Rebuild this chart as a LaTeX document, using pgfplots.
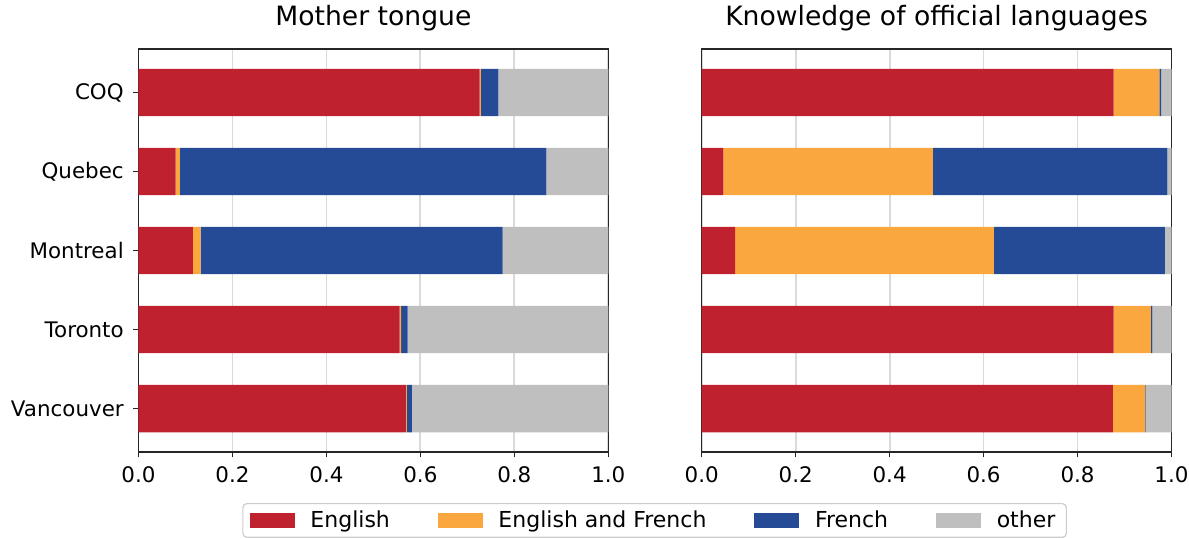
\documentclass[border=0pt]{standalone}
\usepackage{fontspec}
\setmainfont{DejaVu Sans}
\usepackage{pgfplots}
\pgfplotsset{compat=1.18}
\usepackage{pgfplotstable}

\definecolor{cEn}{HTML}{BF212F}
\definecolor{cEF}{HTML}{F9A73E}
\definecolor{cFr}{HTML}{264B96}
\definecolor{cOt}{HTML}{BFBFBF}
\definecolor{gridc}{HTML}{DADADA}

\pgfplotstableread{
y E EF F O
0 0.726 0.003 0.037 0.234
1 0.079 0.009 0.780 0.132
2 0.116 0.016 0.643 0.225
3 0.556 0.003 0.014 0.427
4 0.569 0.002 0.011 0.418
}\mother

\pgfplotstableread{
y E EF F O
0 0.877 0.097 0.004 0.022
1 0.046 0.446 0.499 0.009
2 0.071 0.551 0.364 0.014
3 0.877 0.079 0.003 0.041
4 0.875 0.069 0.001 0.055
}\knowledge

\pgfplotsset{
  mystyle/.style={
    xbar stacked, bar width=0.6,
    scale only axis, width=234.9pt, height=201.5pt,
    xmin=0, xmax=1, ymin=-0.55, ymax=4.55, y dir=reverse,
    xtick={0,0.2,0.4,0.6,0.8,1},
    xticklabels={0.0,0.2,0.4,0.6,0.8,1.0},
    /pgf/number format/assume math mode=true,
    xmajorgrids, grid style={gridc, line width=0.9pt},
    axis line style={black!85, line width=0.6pt},
    tick style={black!85, line width=0.6pt},
    tick align=outside, major tick length=2.67pt,
    xtick pos=left, ytick pos=left,
    ticklabel style={font=\fontsize{10.7}{12}\selectfont},
    xticklabel style={yshift=-1.2pt},
    yticklabel style={xshift=-1.2pt},
    title style={font=\fontsize{13.3}{15}\selectfont, at={(0.5,1)}, anchor=base, yshift=5.85pt},
    legend image code/.code={\fill[##1, sharp corners] (0pt,-3.75pt) rectangle (22.5pt,3.75pt);},
  }
}

\begin{document}
\begin{tikzpicture}
\begin{axis}[mystyle, at={(69.25pt,42.5pt)}, anchor=south west,
  title={Mother tongue},
  ytick={0,1,2,3,4},
  yticklabels={COQ,Quebec,Montreal,Toronto,Vancouver},
  legend columns=4,
  legend style={at={(1.0986,-0.1266)}, anchor=north, draw=black!20, line width=0.6pt,
    rounded corners=2pt, font=\fontsize{11}{12}\selectfont,
    inner xsep=3.5pt, inner ysep=1.5pt,
    /tikz/every even column/.append style={column sep=22pt},
    /tikz/every odd column/.append style={column sep=5.8pt}},
]
\addplot[fill=cEn, draw=none] table[x=E, y=y]{\mother};
\addplot[fill=cEF, draw=none] table[x=EF, y=y]{\mother};
\addplot[fill=cFr, draw=none] table[x=F, y=y]{\mother};
\addplot[fill=cOt, draw=none] table[x=O, y=y]{\mother};
\legend{English, English and French, French, other}
\end{axis}
\begin{axis}[mystyle, at={(350.85pt,42.5pt)}, anchor=south west,
  title={Knowledge of official languages},
  ytick=\empty,
]
\addplot[fill=cEn, draw=none] table[x=E, y=y]{\knowledge};
\addplot[fill=cEF, draw=none] table[x=EF, y=y]{\knowledge};
\addplot[fill=cFr, draw=none] table[x=F, y=y]{\knowledge};
\addplot[fill=cOt, draw=none] table[x=O, y=y]{\knowledge};
\end{axis}
\pgfresetboundingbox
\path[use as bounding box] (0,0) rectangle (594.5pt,268.5pt);
\end{tikzpicture}
\end{document}
